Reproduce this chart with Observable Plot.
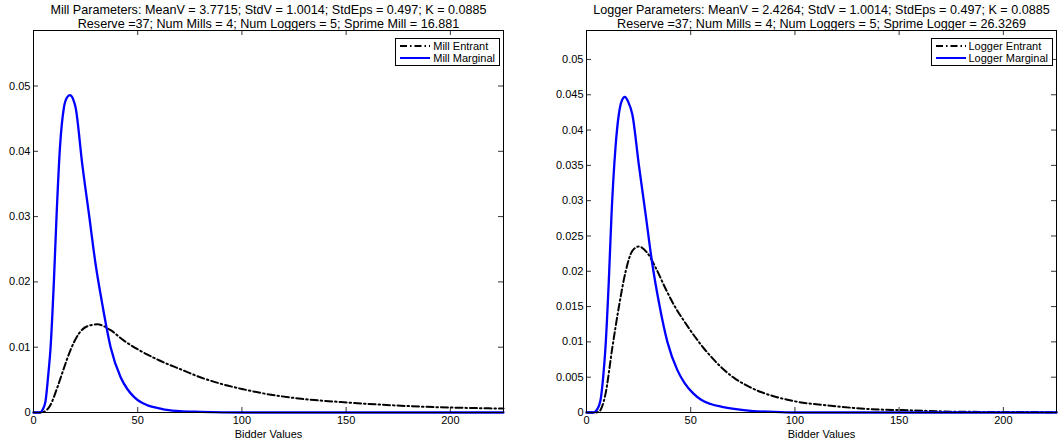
<!DOCTYPE html>
<html>
<head>
<meta charset="utf-8">
<script src="https://cdn.jsdelivr.net/npm/d3@7"></script>
<script src="https://cdn.jsdelivr.net/npm/@observablehq/plot@0.6"></script>
<style>
  html, body { margin: 0; padding: 0; background: #fff; }
  #wrap { display: flex; width: 1061px; height: 442px; overflow: hidden; }
  .panel { position: relative; }
  .legend {
    position: absolute; background: #fff; border: 1px solid #000;
    font: 11px "Liberation Sans", Arial, sans-serif; color: #000;
    padding: 1px 4px 1px 4px;
  }
  .legend .row { display: flex; align-items: center; height: 12px; white-space: nowrap; }
  .legend svg { margin-right: 3px; }
</style>
</head>
<body>
<div id="wrap"></div>
<script>
// ---------- data ----------
const xTicks = [0, 50, 100, 150, 200];
const xLabel = "Bidder Values";

// Left panel: Mill
const millTitle1 = "Mill Parameters: MeanV = 3.7715; StdV = 1.0014; StdEps = 0.497; K = 0.0885";
const millTitle2 = "Reserve =37; Num Mills = 4; Num Loggers = 5; Sprime Mill = 16.881";
const millYTicks = [0, 0.01, 0.02, 0.03, 0.04, 0.05];
const millSeriesNames = ["Mill Entrant", "Mill Marginal"];
const millEntrantX = [0, 3, 5, 8.2, 11.4, 14.6, 17.8, 21.8, 25.8, 30.6, 37, 43.4, 49.9, 60.2, 70.7, 80, 89.9, 100, 109, 128.4, 147.6, 166.8, 186, 208.5, 225.5];
const millEntrantY = [0, 0, 0.0001, 0.0012, 0.0038, 0.0068, 0.0096, 0.0121, 0.0132, 0.0135, 0.0126, 0.0110, 0.0097, 0.0080, 0.0066, 0.0054, 0.0044, 0.0036, 0.0030, 0.0021, 0.0016, 0.0012, 0.0009, 0.0007, 0.0006];
const millMarginalX = [0, 3, 4.5, 5.8, 7, 8.2, 9.8, 11.1, 12.7, 14.6, 16, 17.5, 19, 20.2, 23.4, 26.6, 29.8, 33, 37, 41.8, 45, 48.2, 51.4, 54.7, 61, 64, 70, 80, 100, 150, 225.5];
const millMarginalY = [0, 0, 0.0005, 0.0018, 0.0055, 0.0100, 0.0202, 0.0304, 0.0406, 0.0467, 0.0482, 0.0486, 0.0480, 0.0467, 0.0380, 0.0304, 0.0227, 0.0166, 0.0100, 0.0054, 0.0036, 0.0024, 0.0016, 0.0011, 0.0006, 0.0004, 0.0002, 0.0001, 0, 0, 0];

// Right panel: Logger
const loggerTitle1 = "Logger Parameters: MeanV = 2.4264; StdV = 1.0014; StdEps = 0.497; K = 0.0885";
const loggerTitle2 = "Reserve =37; Num Mills = 4; Num Loggers = 5; Sprime Logger = 26.3269";
const loggerYTicks = [0, 0.005, 0.01, 0.015, 0.02, 0.025, 0.03, 0.035, 0.04, 0.045, 0.05];
const loggerSeriesNames = ["Logger Entrant", "Logger Marginal"];
const loggerEntrantX = [0, 4, 5.9, 9.1, 12.4, 15.5, 18.8, 22, 25.1, 29.2, 33.2, 38, 42.4, 47.6, 51.6, 56, 60.4, 65, 70.8, 77, 83.7, 91, 99.7, 115.7, 135, 155.8, 180, 225.5];
const loggerEntrantY = [0, 0, 0.0001, 0.0026, 0.0092, 0.0149, 0.0200, 0.0229, 0.0235, 0.0226, 0.0205, 0.0175, 0.0150, 0.0126, 0.0109, 0.0092, 0.0077, 0.0063, 0.0049, 0.0038, 0.0029, 0.0022, 0.0016, 0.0010, 0.0005, 0.0003, 0.0001, 0.00005];
const loggerMarginalX = [0, 3.5, 5, 6.7, 8, 9.1, 10.7, 12, 13.9, 15.5, 17, 18.4, 20, 22, 25.1, 28.4, 31.6, 34.8, 38.8, 43.6, 47, 51.2, 55, 59.6, 65, 70.8, 80, 90, 100, 150, 225.5];
const loggerMarginalY = [0, 0, 0.0004, 0.0017, 0.0050, 0.0092, 0.0186, 0.0280, 0.0375, 0.0422, 0.0442, 0.0447, 0.0440, 0.0422, 0.0351, 0.0280, 0.0210, 0.0155, 0.0100, 0.0060, 0.0042, 0.0027, 0.0018, 0.0012, 0.0008, 0.0005, 0.0002, 0.0001, 0, 0, 0];

// ---------- drawing ----------
const H = 442, MT = 30, MB = 30;
const FONT = '"Liberation Sans", Arial, Helvetica, sans-serif';
const DASH = "7,3,1.5,3";
const BLUE = "#0000ff";

function rows(xs, ys) { return xs.map((x, i) => ({x, y: ys[i]})); }

function panel(o) {
  const innerW = o.width - o.marginLeft - o.marginRight;
  const innerH = H - MT - MB;
  const tk = 5;
  const plot = Plot.plot({
    width: o.width, height: H,
    marginLeft: o.marginLeft, marginRight: o.marginRight, marginTop: MT, marginBottom: MB,
    style: {fontFamily: FONT, fontSize: "11px", color: "#000", background: "#fff", overflow: "visible"},
    x: {domain: [0, 225.5]},
    y: {domain: [0, o.yMax]},
    marks: [
      Plot.line(rows(o.entX, o.entY), {x: "x", y: "y", stroke: "#000", strokeWidth: 2, strokeDasharray: DASH, curve: "monotone-x"}),
      Plot.line(rows(o.marX, o.marY), {x: "x", y: "y", stroke: BLUE, strokeWidth: 2.3, curve: "monotone-x"}),
      Plot.axisX({ticks: xTicks, tickSize: 0, tickPadding: 4, tickFormat: d => String(d), label: null, fontSize: 11}),
      Plot.axisY({ticks: o.yTicks, tickSize: 0, tickPadding: 3, tickFormat: d => String(d), label: null, fontSize: 11}),
      Plot.tickX(xTicks, {x: d => d, insetTop: innerH - tk, stroke: "#000", strokeWidth: 0.8}),
      Plot.tickX(xTicks, {x: d => d, insetBottom: innerH - tk, stroke: "#000", strokeWidth: 0.8}),
      Plot.tickY(o.yTicks, {y: d => d, insetRight: innerW - tk, stroke: "#000", strokeWidth: 0.8}),
      Plot.tickY(o.yTicks, {y: d => d, insetLeft: innerW - tk, stroke: "#000", strokeWidth: 0.8}),
      Plot.frame({stroke: "#000", strokeWidth: 1}),
      Plot.text([o.title1], {frameAnchor: "top", dy: -21, lineAnchor: "middle", fontSize: 12.6, fill: "#000"}),
      Plot.text([o.title2], {frameAnchor: "top", dy: -7, lineAnchor: "middle", fontSize: 12.6, fill: "#000"}),
      Plot.text([xLabel], {frameAnchor: "bottom", dy: 22, lineAnchor: "middle", fontSize: 11, fill: "#000"})
    ]
  });
  const div = document.createElement("div");
  div.className = "panel";
  div.style.width = o.width + "px";
  div.style.height = H + "px";
  div.appendChild(plot);
  // legend
  const lg = document.createElement("div");
  lg.className = "legend";
  lg.style.right = (o.marginRight + 3) + "px";
  lg.style.top = (MT + 8) + "px";
  const styles = [{stroke: "#000", dash: DASH, w: 2}, {stroke: BLUE, dash: null, w: 2}];
  o.names.forEach((name, i) => {
    const r = document.createElement("div");
    r.className = "row";
    const s = styles[i];
    r.innerHTML = `<svg width="30" height="10"><line x1="0" y1="5" x2="30" y2="5" stroke="${s.stroke}" stroke-width="${s.w}" ${s.dash ? `stroke-dasharray="${s.dash}"` : ""}/></svg><span>${name}</span>`;
    lg.appendChild(r);
  });
  div.appendChild(lg);
  return div;
}

const wrap = document.getElementById("wrap");
wrap.appendChild(panel({
  width: 530, marginLeft: 33, marginRight: 27, yMax: 0.0585, yTicks: millYTicks,
  entX: millEntrantX, entY: millEntrantY, marX: millMarginalX, marY: millMarginalY,
  title1: millTitle1, title2: millTitle2, names: millSeriesNames
}));
wrap.appendChild(panel({
  width: 531, marginLeft: 56, marginRight: 5, yMax: 0.0541, yTicks: loggerYTicks,
  entX: loggerEntrantX, entY: loggerEntrantY, marX: loggerMarginalX, marY: loggerMarginalY,
  title1: loggerTitle1, title2: loggerTitle2, names: loggerSeriesNames
}));
</script>
</body>
</html>
